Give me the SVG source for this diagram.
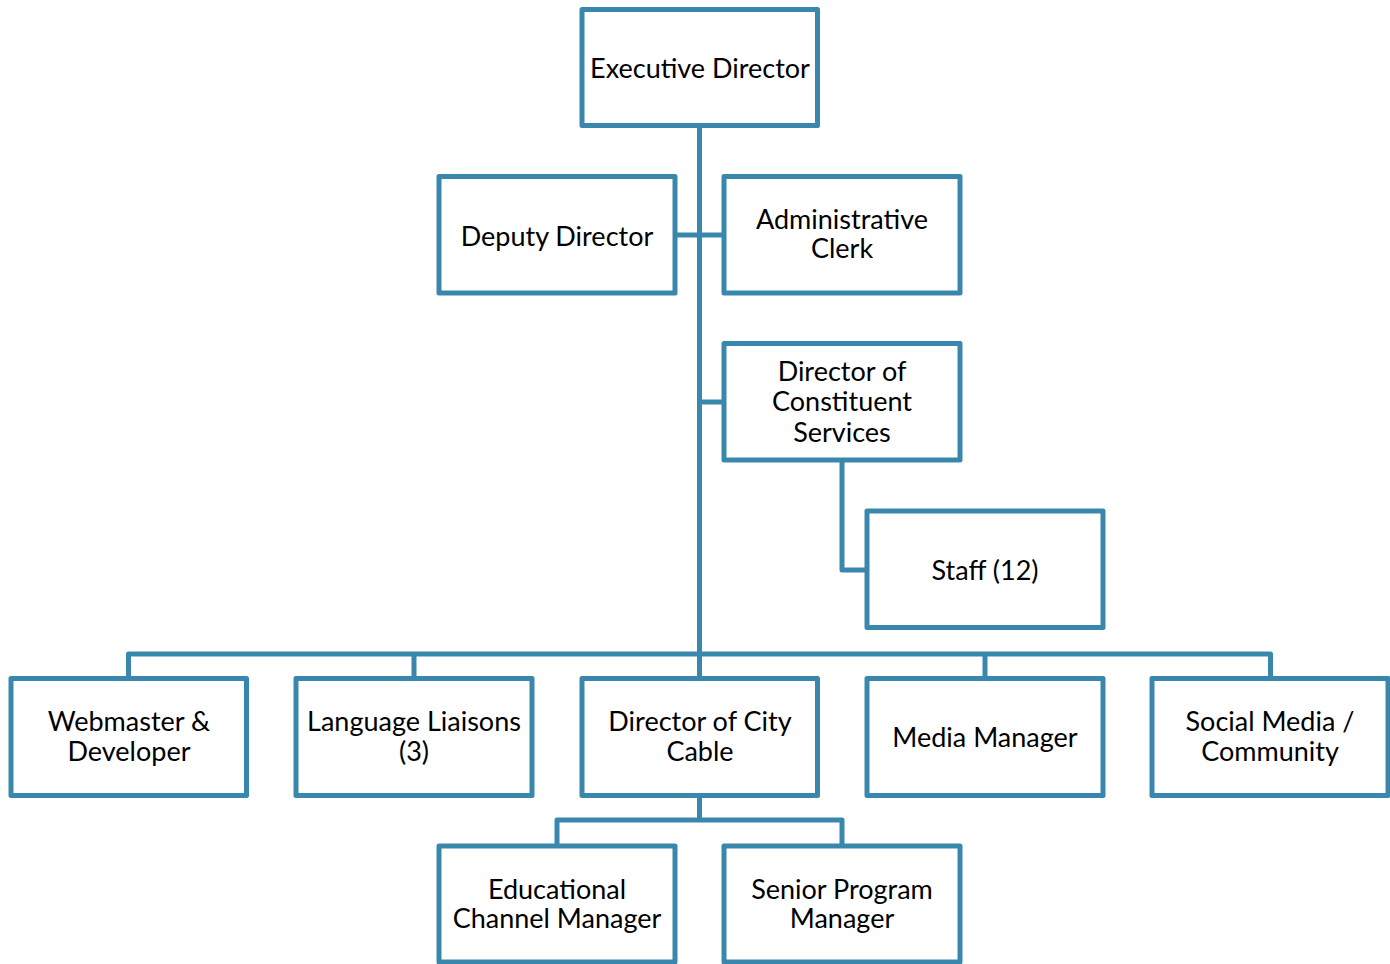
<svg xmlns="http://www.w3.org/2000/svg" width="1390" height="964" viewBox="0 0 1390 964">
<style>
.box{fill:#fff;stroke:#3a87ad;stroke-width:5;stroke-linejoin:round}
.ln{fill:none;stroke:#3a87ad;stroke-width:5;stroke-linejoin:round}
text{font-family:Lato,"Open Sans",sans-serif;font-size:27px;fill:#000;text-anchor:middle}
</style>
<rect width="1390" height="964" fill="#fff"/>
<g id="connectors">
<path class="ln" d="M699.5 126V654"/>
<path class="ln" d="M676 235H723"/>
<path class="ln" d="M699.5 402H723"/>
<path class="ln" d="M842 461V570H866"/>
<path class="ln" d="M128.5 677V654H1270.5V677"/>
<path class="ln" d="M414 654V677M699.5 654V677M985 654V677"/>
<path class="ln" d="M699.5 797V820M557 845V820H842V845"/>
</g>
<g id="n-exec"><rect class="box" x="582" y="9.5" width="235.5" height="116"/><text x="700" y="78">Executive Director</text></g>
<g id="n-deputy"><rect class="box" x="439" y="176.5" width="236" height="116.5"/><text x="557" y="246">Deputy Director</text></g>
<g id="n-admin"><rect class="box" x="724" y="176.5" width="236" height="116.5"/><text x="842" y="229">Administrative</text><text x="842" y="258">Clerk</text></g>
<g id="n-constituent"><rect class="box" x="724" y="343.5" width="236" height="116.5"/><text x="842" y="381">Director of</text><text x="842" y="411">Constituent</text><text x="842" y="442">Services</text></g>
<g id="n-staff"><rect class="box" x="867" y="511" width="236" height="116.5"/><text x="985" y="580">Staff (12)</text></g>
<g id="n-webmaster"><rect class="box" x="11" y="678.5" width="235.5" height="117"/><text x="129" y="731">Webmaster &amp;</text><text x="129" y="761">Developer</text></g>
<g id="n-language"><rect class="box" x="296" y="678.5" width="236" height="117"/><text x="414" y="731">Language Liaisons</text><text x="414" y="761">(3)</text></g>
<g id="n-citycable"><rect class="box" x="582" y="678.5" width="235.5" height="117"/><text x="700" y="731">Director of City</text><text x="700" y="761">Cable</text></g>
<g id="n-media"><rect class="box" x="867" y="678.5" width="236" height="117"/><text x="985" y="747">Media Manager</text></g>
<g id="n-social"><rect class="box" x="1152" y="678.5" width="236" height="117"/><text x="1270" y="731">Social Media /</text><text x="1270" y="761">Community</text></g>
<g id="n-educational"><rect class="box" x="439" y="846" width="236" height="116"/><text x="557" y="899">Educational</text><text x="557" y="928">Channel Manager</text></g>
<g id="n-senior"><rect class="box" x="724" y="846" width="236" height="116"/><text x="842" y="899">Senior Program</text><text x="842" y="928">Manager</text></g>
</svg>
